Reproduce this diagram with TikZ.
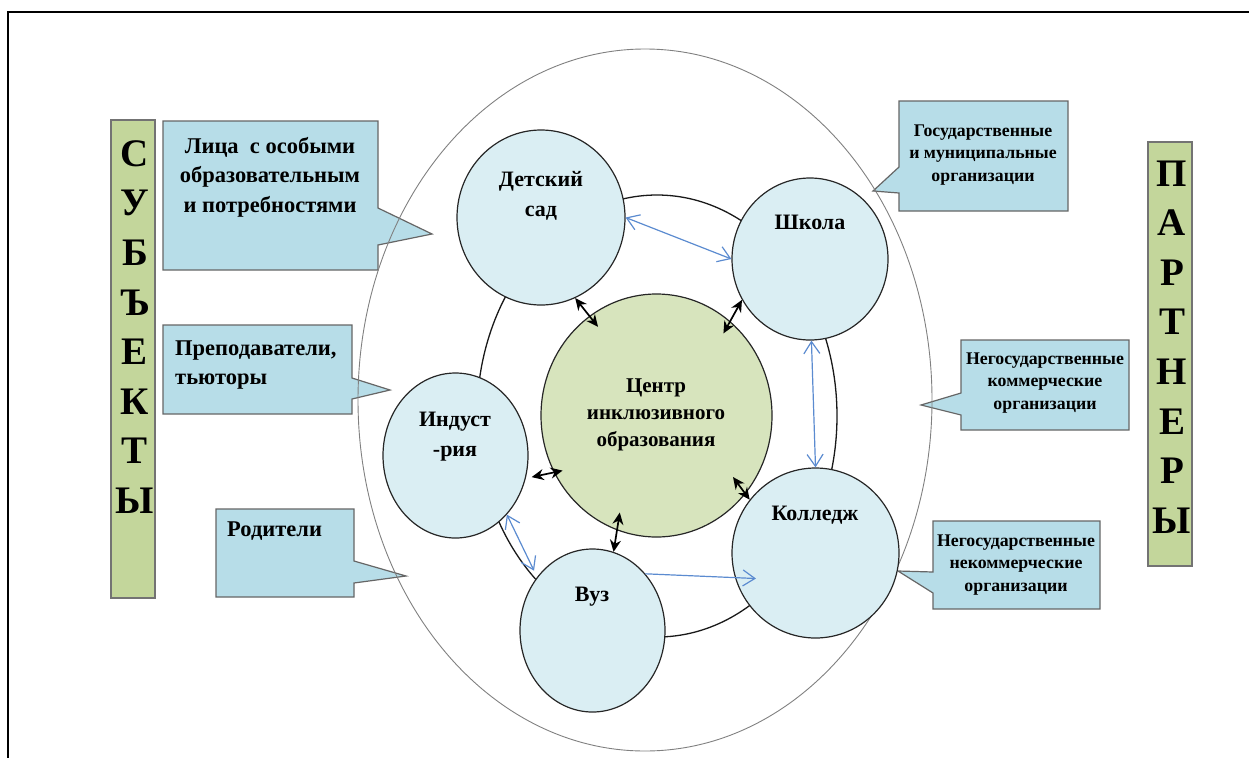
\documentclass[tikz,border=0pt]{standalone}
\usepackage{fontspec}
\setmainfont{Liberation Serif}
\usetikzlibrary{shapes.geometric,arrows.meta}

\definecolor{orgfill}{HTML}{DAEEF3}
\definecolor{centrefill}{HTML}{D7E4BD}
\definecolor{calloutfill}{HTML}{B7DDE8}
\definecolor{barfill}{HTML}{C3D69B}
\definecolor{linkblue}{HTML}{5B8BD0}

\tikzset{
	org/.style={draw=black!85, line width=1.2pt, ellipse, fill=orgfill, inner sep=0pt},
	orgtext/.style={font=\fontsize{22}{30}\selectfont\bfseries, align=center, inner sep=0pt},
	callout/.style={draw=black!60, line width=1.2pt, fill=calloutfill},
	boxtext/.style={font=\fontsize{22.5}{29.5}\selectfont\bfseries, inner sep=0pt},
	smalltext/.style={font=\fontsize{17.8}{22.5}\selectfont\bfseries, align=center, inner sep=0pt},
	bar/.style={draw=black!55, line width=1.2pt, fill=barfill, inner sep=0pt},
	bigletter/.style={font=\fontsize{39}{49.6}\selectfont\bfseries, align=center, inner sep=0pt},
	link/.style={draw=black, line width=1.7pt, {Stealth[length=12pt,width=11pt]}-{Stealth[length=12pt,width=11pt]}},
	bluelink/.style={draw=linkblue, line width=1.2pt},
	barb/.tip={Straight Barb[length=12pt,width=16pt]}
}

\begin{document}
\begin{tikzpicture}[x=1pt, y=-1pt]
	\useasboundingbox (0,0) rectangle (1249,758);
	% page frame
	\draw[line width=2pt] (1249,12) -- (8,12) -- (8,758);

	% side bars
	\node[bar, minimum width=44pt, minimum height=478pt] (subj-bar) at (133,359) {};
	\node[bigletter] (subj) at (135,327) {С\\У\\Б\\Ъ\\Е\\К\\Т\\Ы};
	\node[bar, minimum width=44pt, minimum height=424pt] (part-bar) at (1170,354) {};
	\node[bigletter] (part) at (1172,347) {П\\А\\Р\\Т\\Н\\Е\\Р\\Ы};

	% callouts, left
	\draw[callout] (163,121) -- (378,121) -- (378,208) -- (432,234) -- (378,245) -- (378,270) -- (163,270) -- cycle;
	\node[boxtext, align=center] (lica) at (270,177) {Лица~~с особыми\\образовательным\\и потребностями};
	\draw[callout] (163,325) -- (352,325) -- (352,378) -- (390,390) -- (352,399) -- (352,414) -- (163,414) -- cycle;
	\node[boxtext, align=left, anchor=west] (prepod) at (175,365) {Преподаватели,\\тьюторы};
	\draw[callout] (216,509) -- (354,509) -- (354,561) -- (406,576) -- (354,583) -- (354,597) -- (216,597) -- cycle;
	\node[boxtext, anchor=west] (roditeli) at (227,531) {Родители};

	% callouts, right
	\draw[callout] (899,101) -- (1068,101) -- (1068,211) -- (899,211) -- (899,193) -- (873,191) -- (899,167) -- cycle;
	\node[smalltext] (gos) at (983,155) {Государственные\\и муниципальные\\организации};
	\draw[callout] (961,340) -- (1129,340) -- (1129,430) -- (961,430) -- (961,415) -- (921,405) -- (961,393) -- cycle;
	\node[smalltext] (komm) at (1045,383) {Негосударственные\\коммерческие\\организации};
	\draw[callout] (933,521) -- (1100,521) -- (1100,609) -- (933,609) -- (933,593) -- (898,571) -- (933,572) -- cycle;
	\node[smalltext] (nekomm) at (1016,565) {Негосударственные\\некоммерческие\\организации};

	% rings
	\draw[black!50, line width=0.9pt] (645,400) ellipse [x radius=287pt, y radius=351pt];
	\draw[black!90, line width=1.3pt] (657,416) ellipse [x radius=180pt, y radius=221pt];

	% organisations
	\node[org, fill=centrefill, minimum width=231pt, minimum height=243pt] (centre) at (656.5,415.5) {};
	\node[org, minimum width=168pt, minimum height=175pt] (sad) at (541,217.5) {};
	\node[org, minimum width=156pt, minimum height=162pt] (shkola) at (810,259) {};
	\node[org, minimum width=167pt, minimum height=170pt] (kolledzh) at (815.5,553) {};
	\node[org, minimum width=145pt, minimum height=165pt] (industr) at (455.5,455.5) {};
	\node[org, minimum width=145pt, minimum height=163pt] (vuz) at (592.5,630.5) {};

	\node[orgtext, font=\fontsize{21}{27}\selectfont\bfseries] (centre-t) at (656,415) {Центр\\инклюзивного\\образования};
	\node[orgtext] (sad-t) at (541,196) {Детский\\сад};
	\node[orgtext] (shkola-t) at (810,222) {Школа};
	\node[orgtext] (kolledzh-t) at (815,515) {Колледж};
	\node[orgtext] (industr-t) at (455,437) {Индуст\\-рия};
	\node[orgtext] (vuz-t) at (592,597) {Вуз};

	% links with the centre
	\coordinate (c-kol) at (733,477);
	\draw[link, shorten >=-14pt] (sad.-67) -- (centre.124);
	\draw[link, shorten >=-14pt] (shkola.211) -- (centre.52);
	\draw[link, shorten <=6pt, shorten >=-9pt] (industr.-18) -- (centre.209);
	\draw[link, shorten >=-18pt] (vuz.75) -- (centre.251);
	\draw[link] (kolledzh.141) -- (c-kol);

	% links between organisations
	\draw[bluelink, barb-barb] (sad.east) -- (shkola.west);
	\draw[bluelink, barb-barb] (shkola.-89) -- (kolledzh.north);
	\draw[bluelink, barb-barb, shorten >=7pt] (industr.-49) -- (vuz.136);
	\draw[bluelink, -barb, shorten >=-21pt] (vuz.47) -- (kolledzh.197);
\end{tikzpicture}
\end{document}
